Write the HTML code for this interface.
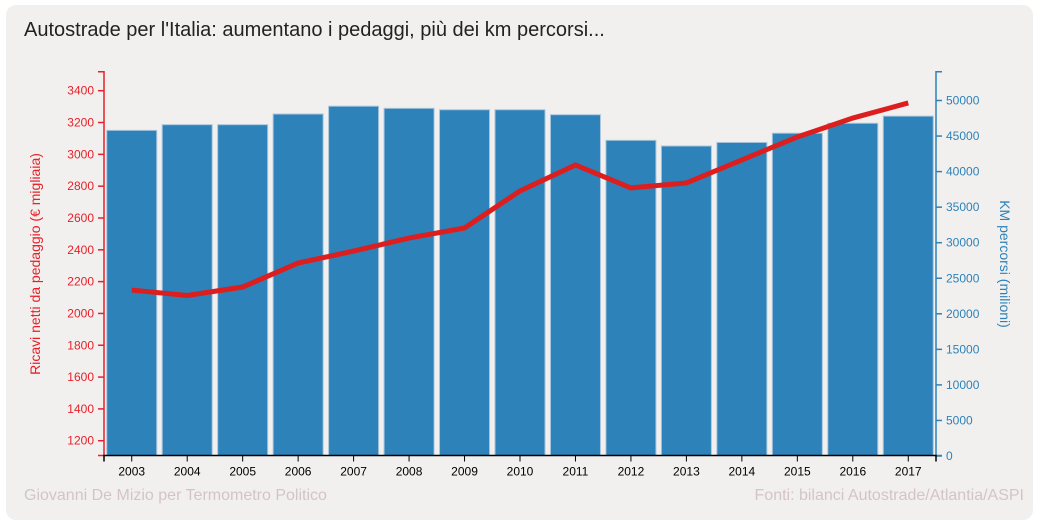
<!DOCTYPE html>
<html><head><meta charset="utf-8"><style>
body{margin:0;background:#fff;width:1039px;height:527px;overflow:hidden;font-family:"Liberation Sans",sans-serif}
#panel{position:absolute;left:6px;top:5px;width:1027px;height:515px;background:#f2f0ee;border-radius:10px}
.t{position:absolute;white-space:nowrap}
</style></head><body>
<div id="panel"></div>
<div class="t" style="left:24px;top:19px;font-size:20px;color:#222">Autostrade per l'Italia: aumentano i pedaggi, più dei km percorsi...</div>
<div class="t" style="left:24px;top:487px;font-size:16px;color:#d4c4c6">Giovanni De Mizio per Termometro Politico</div>
<div class="t" style="right:15px;top:487px;font-size:16px;color:#d4c4c6">Fonti: bilanci Autostrade/Atlantia/ASPI</div>
<svg id="chart" width="1039" height="527" style="position:absolute;left:0;top:0"></svg>
<script>
const years=["2003","2004","2005","2006","2007","2008","2009","2010","2011","2012","2013","2014","2015","2016","2017"];
const km=[45800,46600,46600,48100,49200,48900,48700,48700,48000,44400,43600,44100,45400,46800,47800];
const ricavi=[2147,2113,2166,2317,2392,2474,2537,2770,2933,2789,2820,2965,3109,3228,3323];
const leftTicks=[1200,1400,1600,1800,2000,2200,2400,2600,2800,3000,3200,3400];
const rightTicks=[0,5000,10000,15000,20000,25000,30000,35000,40000,45000,50000];

const svg=document.getElementById('chart');
const NS='http://www.w3.org/2000/svg';
function mk(t,a){const e=document.createElementNS(NS,t);for(const k in a)e.setAttribute(k,a[k]);svg.appendChild(e);return e;}
const X0=104,X1=936,YT=71.7,YB=455.5;
const step=(X1-X0)/years.length;
const xc=i=>X0+step*(i+0.5);
const yL=v=>90.7+(3400-v)/200*31.82;
const yR=v=>456-v/50000*355.5;

// bars
km.forEach((v,i)=>{
  const r=mk('rect',{x:xc(i)-25,y:yR(v),width:50,height:YB-yR(v),fill:'#2c82b9',stroke:'#a9c6dd','stroke-width':1});
  
  
});
// line
const pl=mk('polyline',{points:ricavi.map((v,i)=>xc(i)+','+yL(v)).join(' '),fill:'none',stroke:'#dc1e1e','stroke-width':5});



// left axis
const la=mk('path',{d:`M${X0-6},${YT}H${X0}V${YB}H${X0-6}`,fill:'none',stroke:'#e8202a','stroke-width':1.5});


leftTicks.forEach(v=>{
  const y=yL(v);
  mk('line',{x1:X0-6,x2:X0,y1:y,y2:y,stroke:'#e8202a','stroke-width':1.5});
  const t=mk('text',{x:X0-10,y:y+4,'text-anchor':'end','font-size':12,fill:'#e8202a'});
  t.textContent=v;
  
  
});
const lt=mk('text',{transform:'translate(40,264) rotate(-90)','text-anchor':'middle','font-size':14,fill:'#e8202a'});
lt.textContent='Ricavi netti da pedaggio (€ migliaia)';



// right axis
const ra=mk('path',{d:`M${X1+6},${YT}H${X1}V${YB}H${X1+6}`,fill:'none',stroke:'#2c82b9','stroke-width':1.5});


rightTicks.forEach(v=>{
  const y=yR(v);
  mk('line',{x1:X1,x2:X1+6,y1:y,y2:y,stroke:'#2c82b9','stroke-width':1.5});
  const t=mk('text',{x:X1+10,y:y+4,'text-anchor':'start','font-size':12,fill:'#2c82b9'});
  t.textContent=v;
  
  
});
const rt=mk('text',{transform:'translate(1000,264) rotate(90)','text-anchor':'middle','font-size':14,fill:'#2c82b9'});
rt.textContent='KM percorsi (milioni)';



// x axis
const xa=mk('path',{d:`M${X0},${YB+6}V${YB}H${X1}V${YB+6}`,fill:'none',stroke:'#000','stroke-width':1.5});


years.forEach((yr,i)=>{
  mk('line',{x1:xc(i),x2:xc(i),y1:YB,y2:YB+6,stroke:'#000','stroke-width':1});
  const t=mk('text',{x:xc(i),y:YB+20,'text-anchor':'middle','font-size':12,fill:'#000'});
  t.textContent=yr;
  
  
});
</script>
</body></html>
